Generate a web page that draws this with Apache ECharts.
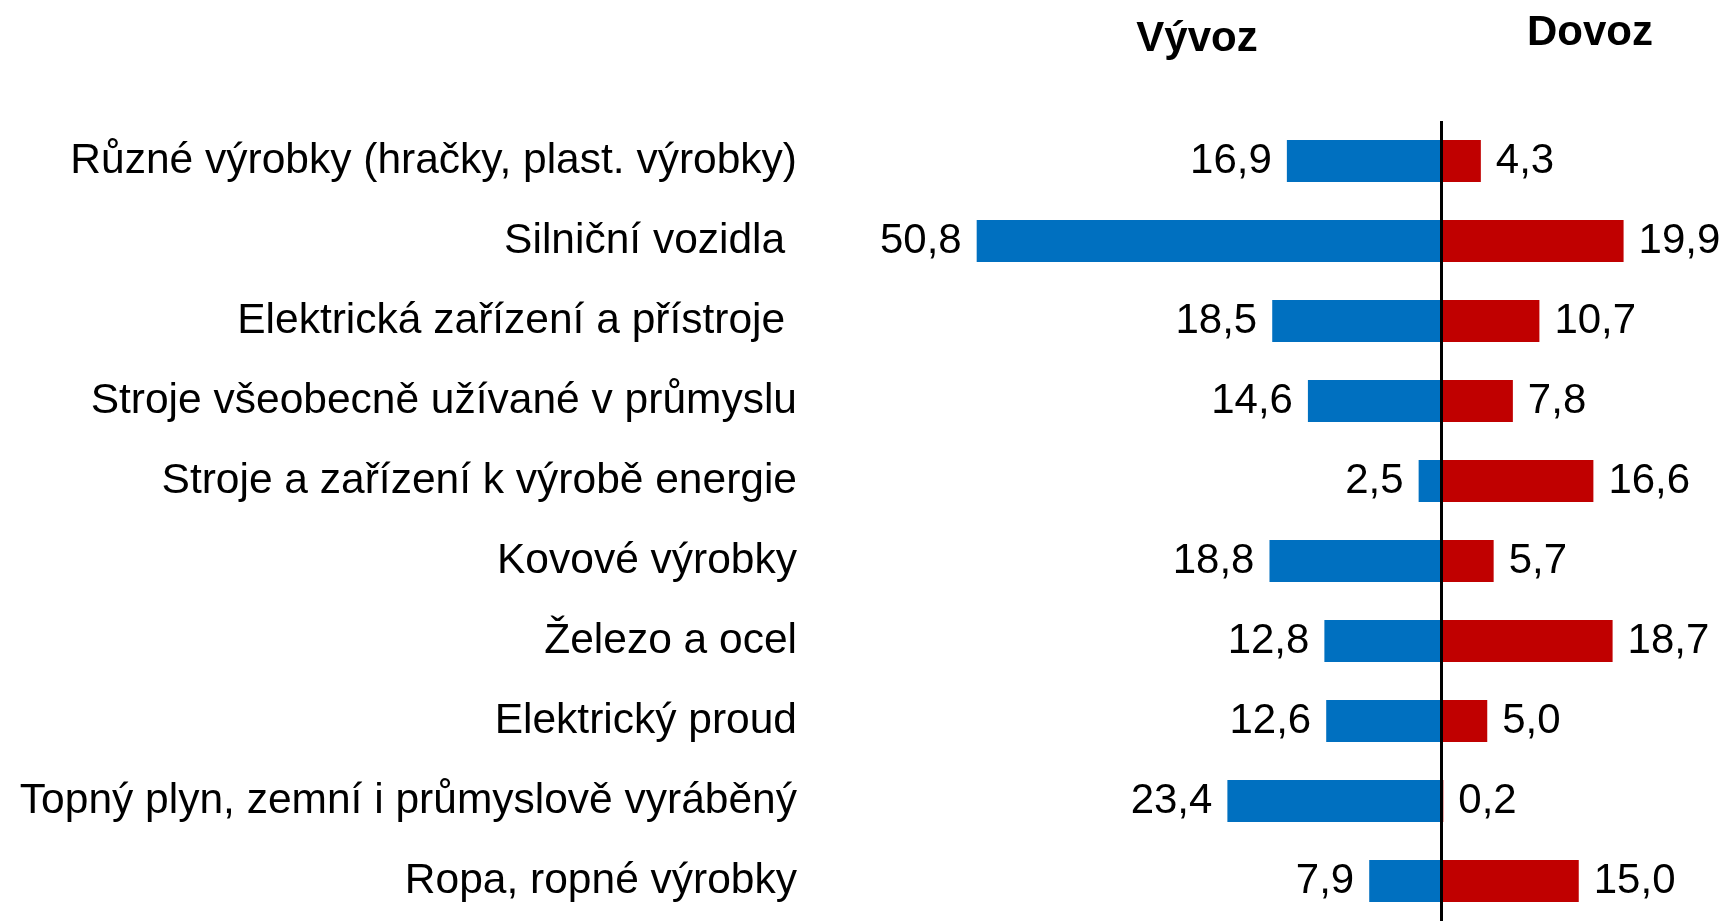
<!DOCTYPE html>
<html>
<head>
<meta charset="utf-8">
<title>Vývoz a dovoz</title>
<script src="https://cdn.jsdelivr.net/npm/echarts@6/dist/echarts.min.js"></script>
<style>
  html, body { margin: 0; padding: 0; background: #fff; }
  #chart { width: 1726px; height: 921px; }
</style>
</head>
<body>
<div id="chart"></div>
<script>
// categories top to bottom (trailing spaces are in the original labels)
const categories = [
  'Různé výrobky (hračky, plast. výrobky)',
  'Silniční vozidla ',
  'Elektrická zařízení a přístroje ',
  'Stroje všeobecně užívané v průmyslu',
  'Stroje a zařízení k výrobě energie',
  'Kovové výrobky',
  'Železo a ocel',
  'Elektrický proud',
  'Topný plyn, zemní i průmyslově vyráběný',
  'Ropa, ropné výrobky'
]
const exportValues = [16.9, 50.8, 18.5, 14.6, 2.5, 18.8, 12.8, 12.6, 23.4, 7.9]
const importValues = [4.3, 19.9, 10.7, 7.8, 16.6, 5.7, 18.7, 5.0, 0.2, 15.0]

const FONT = '"Liberation Sans", Arial, sans-serif'
const fmt = v => Math.abs(v).toFixed(1).replace('.', ',')

const chart = echarts.init(document.getElementById('chart'))

const option = {
  backgroundColor: '#fff',
  animation: false,
  title: [
    {
      text: 'Vývoz',
      left: 1197,
      top: 18,
      padding: 0,
      textAlign: 'center',
      textStyle: { fontFamily: FONT, fontSize: 42, fontWeight: 'bold', color: '#000' }
    },
    {
      text: 'Dovoz',
      left: 1590,
      top: 12,
      padding: 0,
      textAlign: 'center',
      textStyle: { fontFamily: FONT, fontSize: 42, fontWeight: 'bold', color: '#000' }
    }
  ],
  grid: {
    left: 801,
    right: 10,
    top: 121,
    height: 804
  },
  xAxis: {
    type: 'value',
    min: -70,
    max: 30,
    show: false
  },
  yAxis: {
    type: 'category',
    inverse: true,
    data: categories,
    axisLine: { show: false },
    axisTick: { show: false },
    splitLine: { show: false },
    axisLabel: {
      margin: 4,
      padding: [10, 0, 0, 0],
      fontFamily: FONT,
      fontSize: 42.5,
      color: '#000'
    }
  },
  series: [
    {
      name: 'Vývoz',
      type: 'bar',
      stack: 'total',
      barWidth: 42,
      data: exportValues.map(v => -v),
      itemStyle: { color: '#0070C0' },
      label: {
        show: true,
        position: 'left',
        distance: 15,
        padding: [10, 0, 0, 0],
        fontFamily: FONT,
        fontSize: 42,
        color: '#000',
        formatter: p => fmt(p.value)
      },
      markLine: {
        silent: true,
        symbol: 'none',
        label: { show: false },
        lineStyle: { color: '#000', width: 3, type: 'solid' },
        data: [{ xAxis: 0 }]
      }
    },
    {
      name: 'Dovoz',
      type: 'bar',
      stack: 'total',
      barWidth: 42,
      data: importValues,
      itemStyle: { color: '#C00000' },
      label: {
        show: true,
        position: 'right',
        distance: 15,
        padding: [10, 0, 0, 0],
        fontFamily: FONT,
        fontSize: 42,
        color: '#000',
        formatter: p => fmt(p.value)
      }
    }
  ]
}

chart.setOption(option)
</script>
</body>
</html>
